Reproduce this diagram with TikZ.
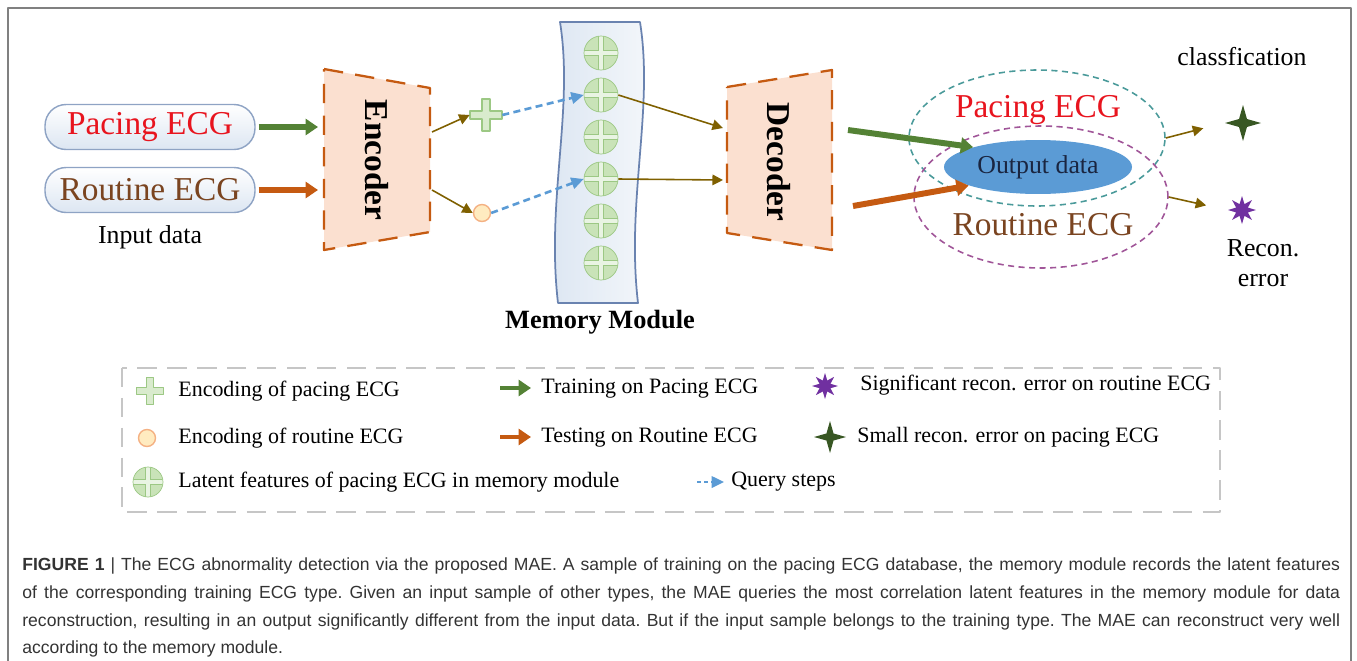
\documentclass[tikz,border=0pt]{standalone}
\usepackage{fontspec}
\setmainfont{Liberation Serif}
\newfontfamily\capfont{Liberation Sans}
\usetikzlibrary{arrows.meta,shapes.geometric}
\definecolor{pacered}{HTML}{E8141E}
\definecolor{routbrown}{HTML}{7A4420}
\definecolor{traingreen}{HTML}{548235}
\definecolor{testorange}{HTML}{C55A11}
\definecolor{oliveline}{HTML}{7F6000}
\definecolor{queryblue}{HTML}{5B9BD5}
\definecolor{peach}{HTML}{FBE0D0}
\definecolor{latfill}{HTML}{C9E3B8}
\definecolor{latline}{HTML}{9CC884}
\definecolor{codefill}{HTML}{FFEBC0}
\definecolor{codeline}{HTML}{F4B183}
\definecolor{tealdash}{HTML}{4A9A9A}
\definecolor{purpdash}{HTML}{A05598}
\definecolor{stargreen}{HTML}{385723}
\definecolor{starpurple}{HTML}{7030A0}
\definecolor{boxline}{HTML}{8EA3C4}
\definecolor{boxfill}{HTML}{DCE6F2}
\definecolor{bandline}{HTML}{6A83B0}
\definecolor{outfill}{HTML}{5B9BD5}
\definecolor{outtext}{HTML}{1A2540}
\definecolor{capgray}{HTML}{333333}
\begin{document}
\begin{tikzpicture}[x=0.02cm,y=-0.02cm,line join=round,
  bigword/.style={font=\fontsize{19}{22}\selectfont},
  midword/.style={font=\fontsize{14.7}{17}\selectfont},
  legtext/.style={font=\fontsize{12.5}{15}\selectfont,anchor=west,inner sep=0pt},
  inbox/.style={draw=boxline,line width=0.8pt,rounded corners=12pt,top color=white,bottom color=boxfill,minimum width=4.2cm,minimum height=0.9cm,bigword},
  coder/.style={draw=testorange,fill=peach,line width=1.3pt,dash pattern=on 11pt off 7pt},
  coderlabel/.style={font=\fontsize{19}{22}\selectfont\bfseries,rotate=-90},
  fatarrow/.style={line width=3.4pt,-{Triangle[length=7pt,width=9pt]}},
  feedarrow/.style={oliveline,line width=0.9pt,-{Triangle[length=6pt,width=6pt]}},
  queryarrow/.style={queryblue,line width=1.5pt,dash pattern=on 4pt off 2.5pt,-{Triangle[length=7pt,width=6.5pt]}},
  latent/.style={circle,draw=latline,fill=latfill,minimum size=0.68cm,inner sep=0pt,
    path picture={\draw[latline,line width=0.5pt,double=latfill!40!white,double distance=2.2pt]
      (path picture bounding box.north)--(path picture bounding box.south)
      (path picture bounding box.west)--(path picture bounding box.east);}},
  codedot/.style={circle,draw=codeline,fill=codefill,line width=0.8pt,minimum size=0.34cm,inner sep=0pt},
  dashring/.style={ellipse,dash pattern=on 3.5pt off 2.5pt,line width=0.9pt},
  pics/encplus/.style={code={\draw[latline,fill=latfill!70!white,line width=0.7pt]
    (-4,-16)--(4,-16)--(4,-4)--(16,-4)--(16,4)--(4,4)--(4,16)--(-4,16)--(-4,4)--(-16,4)--(-16,-4)--(-4,-4)--cycle;}}
]
\useasboundingbox (0,0) rectangle (1357,660);
% frame
\draw[gray,line width=1.2pt] (8,662)--(8,8)--(1351,8)--(1351,662);

% input data
\node[inbox,text=pacered] (pin) at (150,127) {Pacing ECG};
\node[inbox,text=routbrown] (rin) at (150,190) {Routine ECG};
\node[midword] (indata) at (150,237) {Input data};

% encoder
\path
(324,69) coordinate (E1)
(430,88) coordinate (E2)
(430,232) coordinate (E3)
(324,250) coordinate (E4)
(432,132) coordinate (Eo1)
(432,190) coordinate (Eo2)
;
\draw[coder] (E1)--(E2)--(E3)--(E4)--cycle;
\node[coderlabel] (enc) at (377,160) {Encoder};
\draw[fatarrow,traingreen] (pin.east)++(3,0) -- (318,127);
\draw[fatarrow,testorange] (rin.east)++(3,0) -- (318,190);

% encodings
\node[minimum size=0.64cm,inner sep=0pt] (encp) at (486,115) {};
\pic at (encp) {encplus};
\node[codedot] (encr) at (482,213) {};
\draw[feedarrow] (Eo1) -- (encp.west);
\draw[feedarrow] (Eo2) -- (encr.west);

% memory module
\draw[bandline,line width=1pt,left color=boxfill,right color=boxfill!30!white]
(560,22) .. controls (574,110) and (546,200) .. (558,303) -- (638,303)
.. controls (626,200) and (654,110) .. (640,22) -- cycle;
\foreach \i/\y in {1/53,2/95,3/137,4/179,5/221,6/263}
\node[latent] (m\i) at (601,\y) {};
\node[font=\fontsize{15}{18}\selectfont\bfseries] (memlab) at (600,322) {Memory Module};
\draw[queryarrow] (encp.east) -- (m2.west);
\draw[queryarrow] (encr.east) -- (m4.west);

% decoder
\path
(727,87) coordinate (D1)
(832,70) coordinate (D2)
(832,250) coordinate (D3)
(727,233) coordinate (D4)
(723,128) coordinate (Di1)
(723,180) coordinate (Di2)
(848,130) coordinate (Do1)
(853,206) coordinate (Do2)
;
\draw[coder] (D1)--(D2)--(D3)--(D4)--cycle;
\node[coderlabel] (dec) at (779,162) {Decoder};
\draw[feedarrow] (m2.east) -- (Di1);
\draw[feedarrow] (m4.east) -- (Di2);

% output
\node[dashring,draw=tealdash,minimum width=5.12cm,minimum height=2.72cm] (pace) at (1037,138) {};
\node[dashring,draw=purpdash,minimum width=5.08cm,minimum height=2.84cm] (rout) at (1041,197) {};
\node[ellipse,fill=outfill,text=outtext,minimum width=3.4cm,minimum height=1.08cm,midword] (out) at (1038,167) {Output data};
\node[bigword,text=pacered] (pacelab) at (1038,110) {Pacing ECG};
\node[bigword,text=routbrown] (routlab) at (1043,225) {Routine ECG};
\draw[fatarrow,traingreen] (Do1) -- (out.163);
\draw[fatarrow,testorange] (Do2) -- (out.195);

% classification
\node[star,star points=4,star point ratio=3.2,fill=stargreen,minimum size=0.72cm,inner sep=0pt] (gstar) at (1243,123) {};
\node[star,star points=8,star point ratio=2.2,fill=starpurple,minimum size=0.56cm,inner sep=0pt] (pstar) at (1242,210) {};
\draw[feedarrow,shorten >=12pt] (pace.east) -- (gstar.west);
\draw[feedarrow,shorten >=12pt] (rout.east) -- (pstar.west);
\node[midword] (cls) at (1242,57) {classfication};
\node[midword,align=center] (rec) at (1263,263) {Recon.\\error};

% legend
\draw[gray!45,line width=1.5pt,dash pattern=on 11pt off 6pt] (122,368) rectangle (1220,512);
\pic[scale=0.85] at (150,391) {encplus};
\node[legtext] (l1) at (178,391) {Encoding of pacing ECG};
\node[codedot] (lc) at (147,438) {};
\node[legtext] (l2) at (178,438) {Encoding of routine ECG};
\node[latent,minimum size=0.6cm] (lm) at (148,482) {};
\node[legtext] (l3) at (178,482) {Latent features of pacing ECG in memory module};
\path (500,388) coordinate (a1) (531,388) coordinate (b1)
(500,437) coordinate (a2) (531,437) coordinate (b2)
(697,482) coordinate (a3) (724,482) coordinate (b3);
\draw[fatarrow,traingreen,line width=2.8pt] (a1) -- (b1);
\draw[fatarrow,testorange,line width=2.8pt] (a2) -- (b2);
\draw[queryarrow,line width=1.2pt,dash pattern=on 2.5pt off 1.5pt] (a3) -- (b3);
\node[legtext] (l4) at (541,389) {Training on Pacing ECG};
\node[legtext] (l5) at (541,438) {Testing on Routine ECG};
\node[legtext] (l6) at (731,482) {Query steps};
\node[star,star points=8,star point ratio=2.2,fill=starpurple,minimum size=0.52cm,inner sep=0pt] (lp) at (825,386) {};
\node[star,star points=4,star point ratio=3.2,fill=stargreen,minimum size=0.64cm,inner sep=0pt] (lg) at (830,437) {};
\node[legtext] (l7) at (860,385) {Significant recon. error on routine ECG};
\node[legtext] (l8) at (857,437) {Small recon. error on pacing ECG};

% caption
\begin{scope}[every node/.style={anchor=base west,inner sep=0pt,text=capgray,font=\capfont\fontsize{10}{12}\selectfont\frenchspacing}]
\node (c1) at (22,570) {\makebox[26.36cm][s]{\textbf{FIGURE 1} | The ECG abnormality detection via the proposed MAE. A sample of training on the pacing ECG database, the memory module records the latent features}};
\node (c2) at (22,598) {\makebox[26.36cm][s]{of the corresponding training ECG type. Given an input sample of other types, the MAE queries the most correlation latent features in the memory module for data}};
\node (c3) at (22,626) {\makebox[26.36cm][s]{reconstruction, resulting in an output significantly different from the input data. But if the input sample belongs to the training type. The MAE can reconstruct very well}};
\node (c4) at (22,653) {according to the memory module.};
\end{scope}
\end{tikzpicture}
\end{document}
